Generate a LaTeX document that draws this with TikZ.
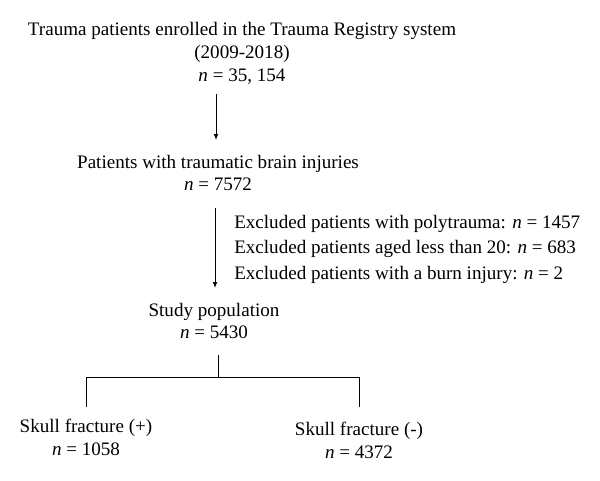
\documentclass[tikz,border=0pt]{standalone}
\usepackage{fontspec}
\setmainfont{Liberation Serif}
\usetikzlibrary{arrows.meta,positioning}
\tikzset{
  box/.style={font=\fontsize{14.3}{17}\selectfont, align=center, inner sep=0pt},
  excl/.style={font=\fontsize{14.3}{19.1}\selectfont, align=left, inner sep=0pt},
  flow/.style={draw=black, line width=0.75pt, -{Latex[length=4.5pt,width=3.6pt]}},
  tree/.style={draw=black, line width=0.75pt},
}
\newcommand{\nn}{\textit{n}}

\begin{document}
\begin{tikzpicture}[x=0.75pt,y=-0.75pt]
  \useasboundingbox (0,0) rectangle (600,481);
  % cohort selection
  \node[box] (reg) at (242,53.5) {Trauma patients enrolled in the Trauma Registry system\\(2009-2018)\\\nn{} = 35, 154};
  \node[box] (tbi) at (218,173) {Patients with traumatic brain injuries\\\nn{} = 7572};
  \node[excl,anchor=west] (excl) at (234,249) {Excluded patients with polytrauma: \nn{} = 1457\\Excluded patients aged less than 20: \nn{} = 683\\Excluded patients with a burn injury: \nn{} = 2};
  \node[box] (study) at (214,321) {Study population\\\nn{} = 5430};
  % groups
  \node[box] (frac) at (86,437.5) {Skull fracture (+)\\\nn{} = 1058};
  \node[box] (nofrac) at (359,440.5) {Skull fracture (-)\\\nn{} = 4372};
  \coordinate (split) at (218,377);
  \draw[flow,shorten <=6.75pt,shorten >=11pt] (reg.south -| 216,0) -- (tbi.north -| 216,0);
  \draw[flow,shorten <=12.75pt,shorten >=11pt] (tbi.south -| 215,0) -- (study.north -| 215,0);
  \draw[tree,shorten <=12pt] (split |- study.south) -- (split);
  \draw[tree,shorten <=9pt,shorten >=11pt] (frac.north) -- (frac.north |- split) -- (nofrac.north |- split) -- (nofrac.north);
\end{tikzpicture}
\end{document}
